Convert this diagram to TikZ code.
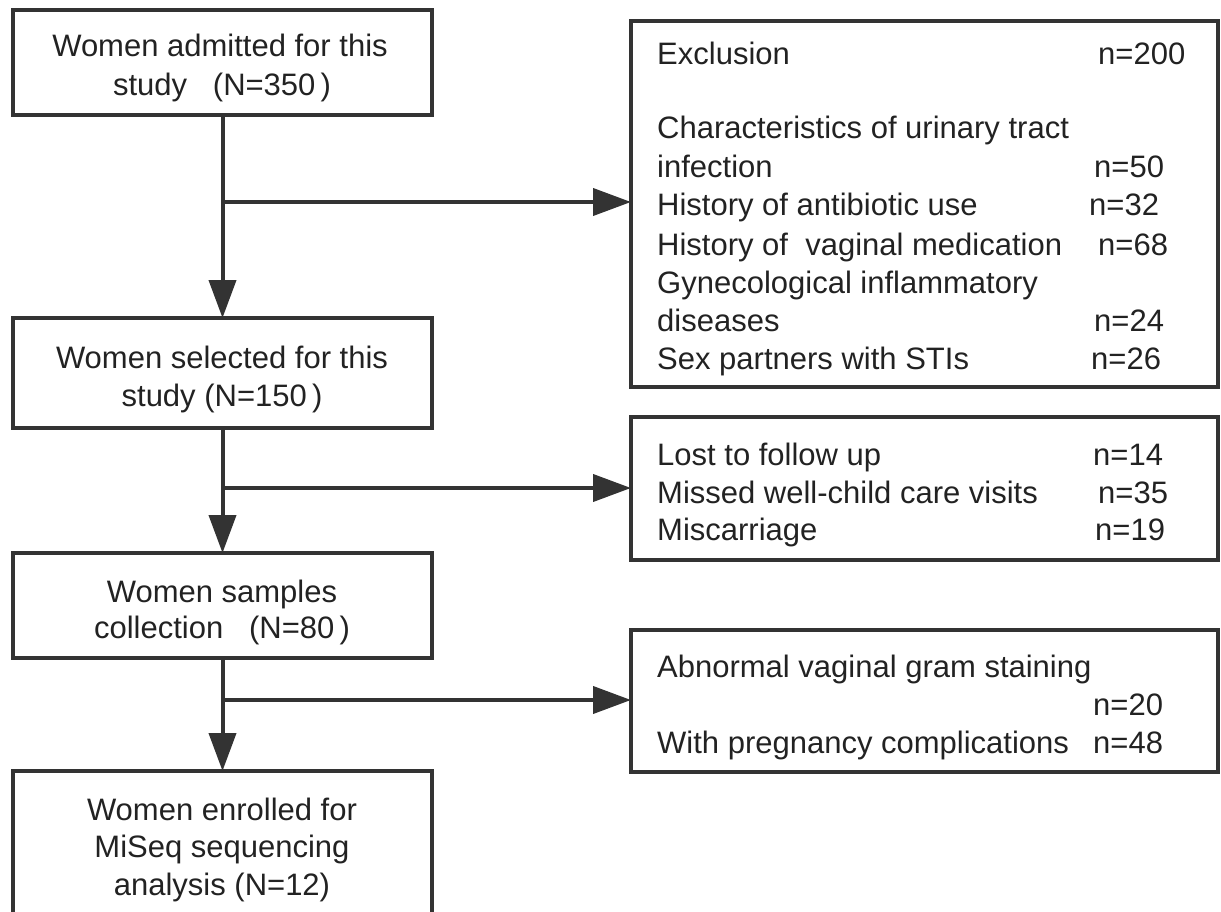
\documentclass[tikz,border=0pt]{standalone}
\usepackage{fontspec}
\setmainfont{Liberation Sans}
\usetikzlibrary{arrows.meta}
\definecolor{lc}{HTML}{333333}
\definecolor{tc}{HTML}{222222}
\begin{document}
\begin{tikzpicture}[x=1pt,y=-1pt,
  box/.style={draw=lc, line width=4pt, rectangle, inner sep=0pt, outer sep=0pt, anchor=north west},
  txt/.style={text=tc, font=\fontsize{31}{37}\selectfont, inner sep=0pt},
  lt/.style={txt, anchor=base west},
  ct/.style={txt, anchor=base},
  arr/.style={draw=lc, line width=4pt, -{Triangle[length=38pt,width=27pt]}},
  conn/.style={draw=lc, line width=4pt}]
\useasboundingbox (0,0) rectangle (1221,912);
\clip (0,0) rectangle (1221,912);
% left column boxes
\node[box, minimum width=419pt, minimum height=105pt] (b1) at (13,10) {};
\node[box, minimum width=419pt, minimum height=110pt] (b2) at (13,318) {};
\node[box, minimum width=419pt, minimum height=105pt] (b3) at (13,553) {};
\node[box, minimum width=419pt, minimum height=170pt] (b4) at (13,771) {};
% right column boxes
\node[box, minimum width=587pt, minimum height=366pt] (ex) at (631,21) {};
\node[box, minimum width=587pt, minimum height=143pt] (lo) at (631,417) {};
\node[box, minimum width=587pt, minimum height=142pt] (ab) at (631,630) {};
% left texts
\node[ct] (t1a) at (220,57) {Women admitted for this};
\node[ct] (t1b) at (222,96) {study\ \ \ (N=350\,)};
\node[ct] (t2a) at (222,368) {Women selected for this};
\node[ct] (t2b) at (222,406) {study (N=150\,)};
\node[ct] (t3a) at (222,602) {Women samples};
\node[ct] (t3b) at (222,638) {collection\ \ \ (N=80\,)};
\node[ct] (t4a) at (222,820) {Women enrolled for};
\node[ct] (t4b) at (222,857) {MiSeq sequencing};
\node[ct] (t4c) at (222,895) {analysis (N=12)};
% exclusion box texts
\node[lt] (e1) at (657,65) {Exclusion};
\node[lt] (e1n) at (1098,65) {n=200};
\node[lt] (e2) at (657,139) {Characteristics of urinary tract};
\node[lt] (e3) at (657,178) {infection};
\node[lt] (e3n) at (1094,178) {n=50};
\node[lt] (e4) at (657,216) {History of antibiotic use};
\node[lt] (e4n) at (1089,216) {n=32};
\node[lt] (e5) at (657,255) {History of\ \ vaginal medication};
\node[lt] (e5n) at (1098,255) {n=68};
\node[lt] (e6) at (657,293) {Gynecological inflammatory};
\node[lt] (e7) at (657,331) {diseases};
\node[lt] (e7n) at (1094,331) {n=24};
\node[lt] (e8) at (657,369) {Sex partners with STIs};
\node[lt] (e8n) at (1091,369) {n=26};
% lost box texts
\node[lt] (l1) at (657,465) {Lost to follow up};
\node[lt] (l1n) at (1093,465) {n=14};
\node[lt] (l2) at (657,503) {Missed well-child care visits};
\node[lt] (l2n) at (1098,503) {n=35};
\node[lt] (l3) at (657,540) {Miscarriage};
\node[lt] (l3n) at (1095,540) {n=19};
% abnormal box texts
\node[lt] (a1) at (657,677) {Abnormal vaginal gram staining};
\node[lt] (a2n) at (1093,715) {n=20};
\node[lt] (a3) at (657,753) {With pregnancy complications};
\node[lt] (a3n) at (1093,753) {n=48};
% connectors
\coordinate (j1) at (b1.south |- 0,202);
\coordinate (j2) at (b2.south |- 0,488);
\coordinate (j3) at (b3.south |- 0,700);
\draw[arr] (b1.south) -- (b2.north);
\draw[arr] (b2.south) -- (b3.north);
\draw[arr] (b3.south) -- (b4.north);
\draw[arr] (j1) -- (j1 -| ex.west);
\draw[arr] (j2) -- (j2 -| lo.west);
\draw[arr] (j3) -- (j3 -| ab.west);
\end{tikzpicture}
\end{document}
